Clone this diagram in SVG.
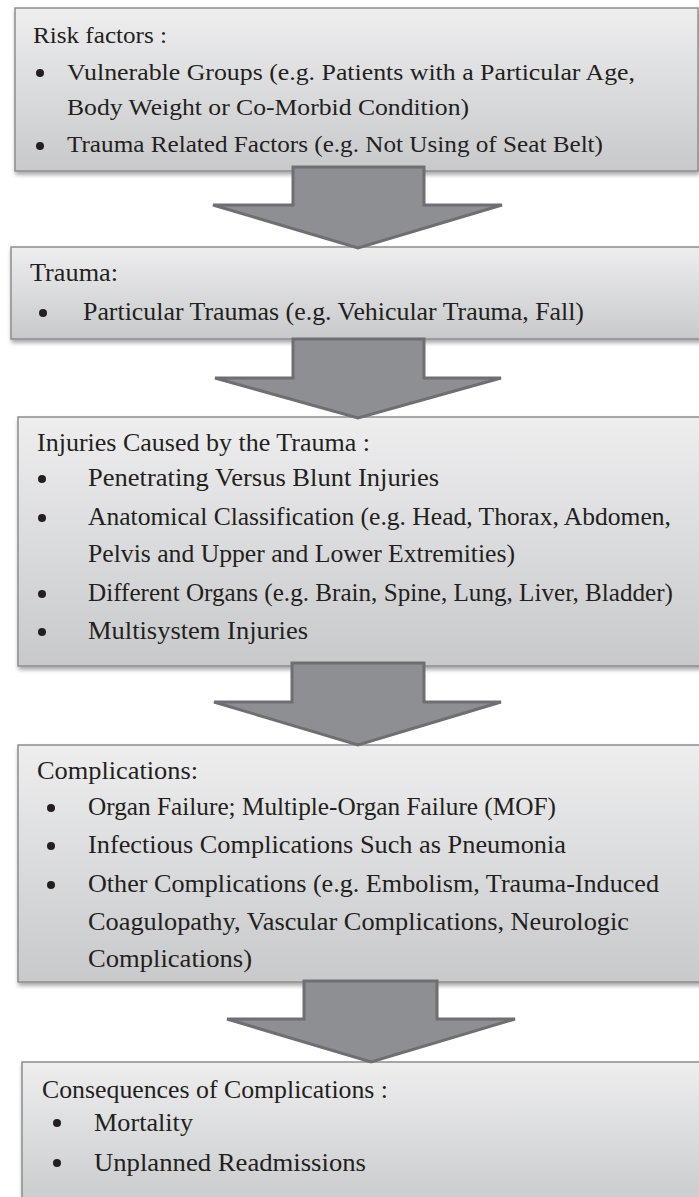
<svg xmlns="http://www.w3.org/2000/svg" width="699" height="1197" viewBox="0 0 699 1197">
<style>
.box{fill:url(#boxgrad);stroke:#8c8d8f;stroke-width:1.5;filter:url(#shadow)}
.t{font-family:"Liberation Serif","Times New Roman",serif;font-size:23.5px;fill:#231f20}
.tc{font-family:"Liberation Serif","Times New Roman",serif;font-size:25.5px;fill:#231f20}
.t5{font-family:"Liberation Serif","Times New Roman",serif;font-size:24.5px;fill:#231f20}
.dot{fill:#231f20}
.arrow{fill:#8e8f92;stroke:#6e6f72;stroke-width:3;stroke-linejoin:miter}
</style>
<defs>
<linearGradient id="boxgrad" x1="0" y1="0" x2="0" y2="1">
<stop offset="0" stop-color="#eeeeef"/>
<stop offset="1" stop-color="#c8c9cb"/>
</linearGradient>
<filter id="shadow" x="-5%" y="-10%" width="110%" height="125%">
<feDropShadow dx="1" dy="3" stdDeviation="2" flood-color="#000" flood-opacity="0.35"/>
</filter>
</defs>
<rect width="699" height="1197" fill="#ffffff"/>

<g id="risk-factors">
<rect class="box" x="15" y="8" width="683" height="163"/>
<text class="t" x="33" y="43" textLength="134" lengthAdjust="spacingAndGlyphs">Risk factors :</text>
<circle class="dot" cx="40" cy="73" r="4"/>
<text class="t" x="67" y="80" textLength="568" lengthAdjust="spacingAndGlyphs">Vulnerable Groups (e.g. Patients with a Particular Age,</text>
<text class="t" x="67" y="115" textLength="402" lengthAdjust="spacingAndGlyphs">Body Weight or Co-Morbid Condition)</text>
<circle class="dot" cx="40" cy="146" r="4"/>
<text class="t" x="67" y="152" textLength="536" lengthAdjust="spacingAndGlyphs">Trauma Related Factors (e.g. Not Using of Seat Belt)</text>
</g>

<g id="trauma">
<rect class="box" x="11" y="247" width="700" height="92"/>
<text class="tc" x="30" y="281" textLength="88" lengthAdjust="spacingAndGlyphs">Trauma:</text>
<circle class="dot" cx="43" cy="313" r="4"/>
<text class="tc" x="83" y="320" textLength="501" lengthAdjust="spacingAndGlyphs">Particular Traumas (e.g. Vehicular Trauma, Fall)</text>
</g>

<g id="injuries">
<rect class="box" x="18" y="417" width="700" height="249"/>
<text class="tc" x="37" y="451" textLength="333" lengthAdjust="spacingAndGlyphs">Injuries Caused by the Trauma :</text>
<circle class="dot" cx="42" cy="479" r="4"/>
<text class="tc" x="88" y="486" textLength="351" lengthAdjust="spacingAndGlyphs">Penetrating Versus Blunt Injuries</text>
<circle class="dot" cx="42" cy="518" r="4"/>
<text class="tc" x="88" y="525" textLength="583" lengthAdjust="spacingAndGlyphs">Anatomical Classification (e.g. Head, Thorax, Abdomen,</text>
<text class="tc" x="88" y="562" textLength="427" lengthAdjust="spacingAndGlyphs">Pelvis and Upper and Lower Extremities)</text>
<circle class="dot" cx="42" cy="594" r="4"/>
<text class="tc" x="88" y="601" textLength="585" lengthAdjust="spacingAndGlyphs">Different Organs (e.g. Brain, Spine, Lung, Liver, Bladder)</text>
<circle class="dot" cx="42" cy="632" r="4"/>
<text class="tc" x="88" y="639" textLength="220" lengthAdjust="spacingAndGlyphs">Multisystem Injuries</text>
</g>

<g id="complications">
<rect class="box" x="18" y="745" width="700" height="237"/>
<text class="tc" x="37" y="779" textLength="161" lengthAdjust="spacingAndGlyphs">Complications:</text>
<circle class="dot" cx="51" cy="808" r="4"/>
<text class="tc" x="88" y="815" textLength="468" lengthAdjust="spacingAndGlyphs">Organ Failure; Multiple-Organ Failure (MOF)</text>
<circle class="dot" cx="51" cy="846" r="4"/>
<text class="tc" x="88" y="853" textLength="478" lengthAdjust="spacingAndGlyphs">Infectious Complications Such as Pneumonia</text>
<circle class="dot" cx="51" cy="885" r="4"/>
<text class="tc" x="88" y="892" textLength="571" lengthAdjust="spacingAndGlyphs">Other Complications (e.g. Embolism, Trauma-Induced</text>
<text class="tc" x="88" y="930" textLength="541" lengthAdjust="spacingAndGlyphs">Coagulopathy, Vascular Complications, Neurologic</text>
<text class="tc" x="88" y="967" textLength="164" lengthAdjust="spacingAndGlyphs">Complications)</text>
</g>

<g id="consequences">
<rect class="box" x="22" y="1062" width="700" height="150"/>
<text class="t5" x="42" y="1098" textLength="346" lengthAdjust="spacingAndGlyphs">Consequences of Complications :</text>
<circle class="dot" cx="57" cy="1123" r="4"/>
<text class="t5" x="94" y="1131" textLength="99" lengthAdjust="spacingAndGlyphs">Mortality</text>
<circle class="dot" cx="57" cy="1163" r="4"/>
<text class="t5" x="94" y="1171" textLength="272" lengthAdjust="spacingAndGlyphs">Unplanned Readmissions</text>
</g>

<g id="connectors">
<path class="arrow" d="M293,167 H424 V205 H502 L358,248 L213,205 H293 Z"/>
<path class="arrow" d="M293,339 H424 V378 H501 L358,418 L215,378 H293 Z"/>
<path class="arrow" d="M292,663 H424 V702 H501 L358,745 L214,702 H292 Z"/>
<path class="arrow" d="M304,981 H437 V1019 H515 L371,1062 L227,1019 H304 Z"/>
</g>
</svg>
